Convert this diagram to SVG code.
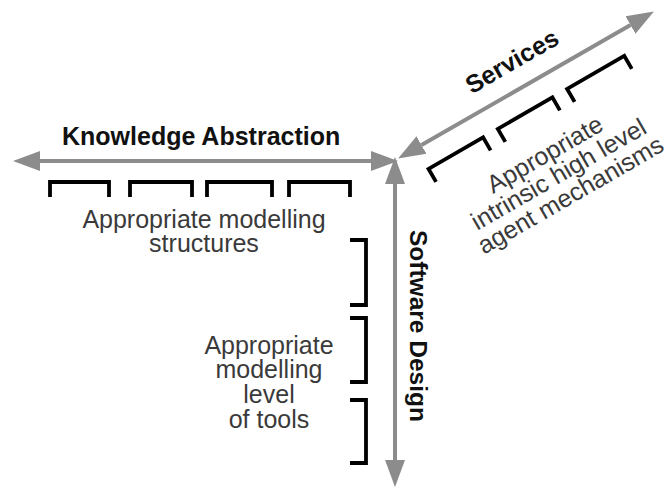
<svg xmlns="http://www.w3.org/2000/svg" width="670" height="491" viewBox="0 0 670 491">
<style>
.axis{stroke:#8c8c8c;stroke-width:4;fill:none;marker-start:url(#ah);marker-end:url(#ah)}
.br{stroke:#000;stroke-width:3.8;fill:none;stroke-linejoin:miter}
.title{font-family:"Liberation Sans",Arial,sans-serif;font-weight:bold;font-size:25px;fill:#111}
.lbl{font-family:"Liberation Sans",Arial,sans-serif;font-size:25px;fill:#3a3a3a;text-anchor:middle}
</style>
<defs>
<marker id="ah" markerUnits="userSpaceOnUse" markerWidth="28" markerHeight="22" refX="0" refY="10" orient="auto-start-reverse" viewBox="0 0 28 20">
<path d="M0,0 L27,10 L0,20 Z" fill="#8c8c8c"/>
</marker>
</defs>
<rect width="670" height="491" fill="#fff"/>
<g id="connectors">
<path class="axis" d="M40,161 L371,161"/>
<path class="axis" d="M395,184 L395,460"/>
<path class="axis" d="M421.5,145 L630.5,25"/>
</g>
<g id="knowledge-abstraction">
<text class="title" x="62" y="145">Knowledge Abstraction</text>
<path class="br" d="M50,197 V182 H109 V197 M130,197 V182 H192 V197 M207,197 V182 H272 V197 M289,197 V182 H350 V197"/>
<text class="lbl" x="204" y="228">Appropriate modelling</text>
<text class="lbl" x="204" y="252">structures</text>
</g>
<g id="software-design">
<text class="title" transform="translate(410,230) rotate(90)" style="font-size:24.5px">Software Design</text>
<path class="br" d="M350,240 H366 V305 H350 M350,318 H366 V382 H350 M350,400 H366 V463 H350"/>
<text class="lbl" x="269" y="354">Appropriate</text>
<text class="lbl" x="269" y="378">modelling</text>
<text class="lbl" x="269" y="403">level</text>
<text class="lbl" x="269" y="428">of tools</text>
</g>
<g id="services" transform="translate(398,160) rotate(-30)">
<text class="title" x="148" y="-20" text-anchor="middle">Services</text>
<path class="br" d="M22,38 V23 H85 V38 M102,38 V23 H165 V38 M182,38 V23 H248 V38"/>
<text class="lbl" x="130" y="77">Appropriate</text>
<text class="lbl" x="132" y="101">intrinsic high level</text>
<text class="lbl" x="132" y="125">agent mechanisms</text>
</g>
</svg>
